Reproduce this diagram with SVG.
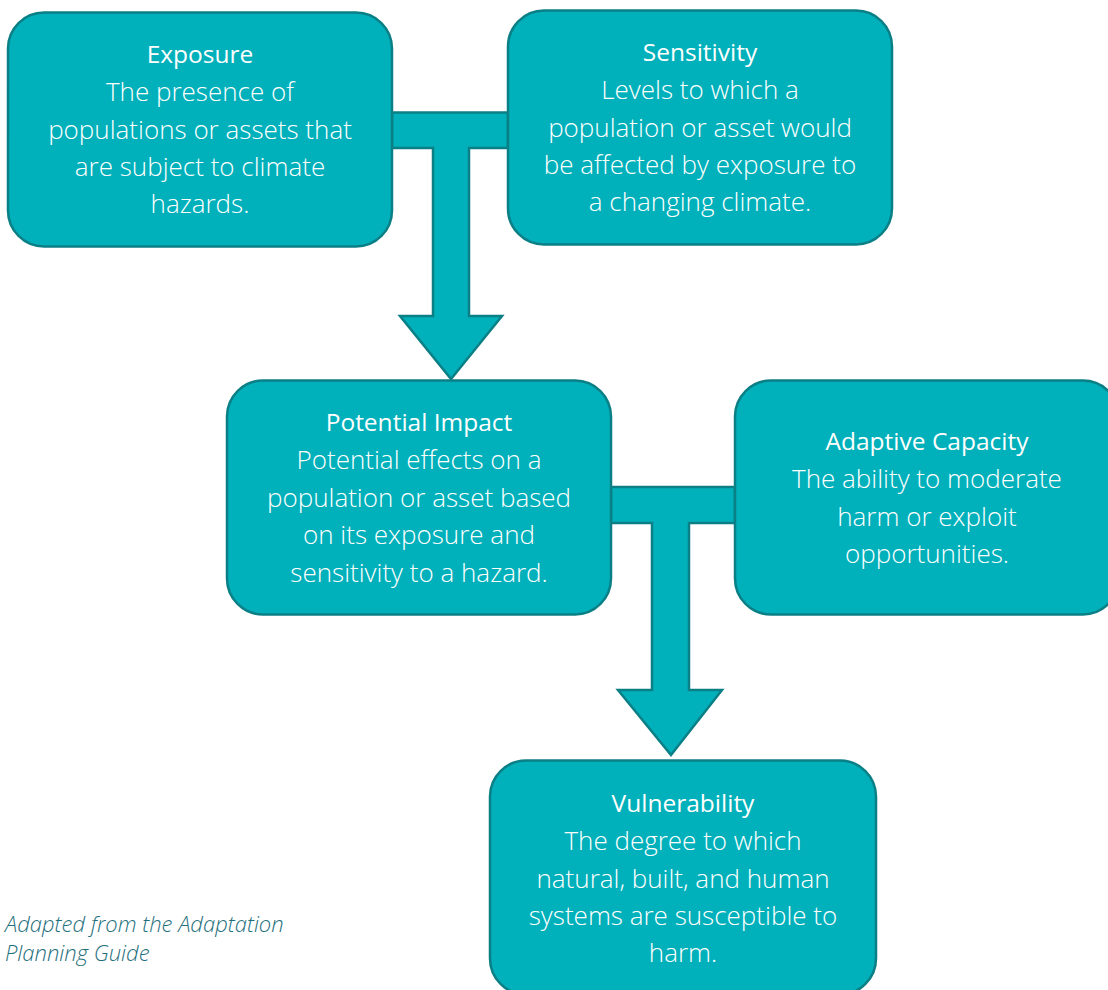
<svg xmlns="http://www.w3.org/2000/svg" width="1108" height="990" viewBox="0 0 1108 990">
<style>
.box{fill:#00b0ba;stroke:#0b7f86;stroke-width:2.5}
.conn{fill:#00b0ba;stroke:#0b7f86;stroke-width:2.5;stroke-linejoin:miter}
.t{font-family:"Open Sans","Liberation Sans",sans-serif;fill:#ffffff;text-anchor:middle;font-size:24.5px;font-weight:400}
.b{font-family:"Open Sans","Liberation Sans",sans-serif;fill:#ffffff;text-anchor:middle;font-size:26px;font-weight:300}
.cap{font-family:"Open Sans","Liberation Sans",sans-serif;fill:#1f6f7c;font-size:22px;font-style:italic;font-weight:300}
</style>
<rect width="1108" height="990" fill="#ffffff"/>
<g id="connectors">
<polygon class="conn" points="392,112.5 508,112.5 508,148 469,148 469,316 502,316 451,379 400,316 433,316 433,148 392,148"/>
<polygon class="conn" points="611,487 735,487 735,523 689,523 689,690 722,690 671,755 618,690 652,690 652,523 611,523"/>
</g>
<g id="exposure">
<rect class="box" x="8" y="12.5" width="384" height="234" rx="36"/>
<text class="t" x="200" y="63">Exposure</text>
<text class="b" x="200" y="101">The presence of</text>
<text class="b" x="200" y="139">populations or assets that</text>
<text class="b" x="200" y="176">are subject to climate</text>
<text class="b" x="200" y="213">hazards.</text>
</g>
<g id="sensitivity">
<rect class="box" x="508" y="10.5" width="384" height="234" rx="36"/>
<text class="t" x="700" y="61">Sensitivity</text>
<text class="b" x="700" y="99">Levels to which a</text>
<text class="b" x="700" y="137">population or asset would</text>
<text class="b" x="700" y="174">be affected by exposure to</text>
<text class="b" x="700" y="211">a changing climate.</text>
</g>
<g id="potential-impact">
<rect class="box" x="227" y="380.5" width="384" height="234" rx="36"/>
<text class="t" x="419" y="431">Potential Impact</text>
<text class="b" x="419" y="469">Potential effects on a</text>
<text class="b" x="419" y="507">population or asset based</text>
<text class="b" x="419" y="544">on its exposure and</text>
<text class="b" x="419" y="582">sensitivity to a hazard.</text>
</g>
<g id="adaptive-capacity">
<rect class="box" x="735" y="380.5" width="384" height="234" rx="36"/>
<text class="t" x="927" y="450">Adaptive Capacity</text>
<text class="b" x="927" y="488">The ability to moderate</text>
<text class="b" x="927" y="526">harm or exploit</text>
<text class="b" x="927" y="563">opportunities.</text>
</g>
<g id="vulnerability">
<rect class="box" x="490" y="760.5" width="386" height="234" rx="36"/>
<text class="t" x="683" y="812">Vulnerability</text>
<text class="b" x="683" y="850">The degree to which</text>
<text class="b" x="683" y="888">natural, built, and human</text>
<text class="b" x="683" y="925">systems are susceptible to</text>
<text class="b" x="683" y="962">harm.</text>
</g>
<g id="caption">
<text class="cap" x="5" y="932">Adapted from the Adaptation</text>
<text class="cap" x="5" y="961">Planning Guide</text>
</g>
</svg>
